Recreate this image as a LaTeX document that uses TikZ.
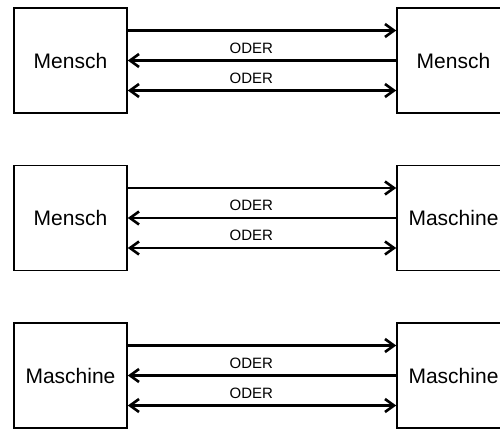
\documentclass[tikz,border=0pt]{standalone}
\usepackage{fontspec}
\setmainfont{Liberation Sans}
\usetikzlibrary{arrows.meta}

\begin{document}
\begin{tikzpicture}[x=1pt, y=-1pt, >={Straight Barb[length=9pt,width=13pt]},
  box/.style={draw, line width=1.6pt, minimum width=113pt, minimum height=105pt,
    inner sep=0pt, font=\fontsize{21}{25}\selectfont},
  lnk/.style={line width=2.6pt},
  lbl/.style={pos=.46, above=2.5pt, font=\fontsize{15}{18}\selectfont}]
\useasboundingbox (0,0) rectangle (500,428);
% three pairs of partners
\node[box] (l1) at (70.5,60.5) {Mensch};
\node[box] (r1) at (453.5,60.5) {Mensch};
\node[box] (l2) at (70.5,218) {Mensch};
\node[box] (r2) at (453.5,218) {Maschine};
\node[box] (l3) at (70.5,375.5) {Maschine};
\node[box] (r3) at (453.5,375.5) {Maschine};
% each pair: one way, the other way, or both
\foreach \i in {1,2,3} {
  \draw[lnk, ->] ([yshift=30pt]l\i.east) -- ([yshift=30pt]r\i.west);
  \draw[lnk, <-] (l\i.east) -- node[lbl] {ODER} (r\i.west);
  \draw[lnk, <->] ([yshift=-30pt]l\i.east) -- node[lbl] {ODER} ([yshift=-30pt]r\i.west);
}
\end{tikzpicture}
\end{document}
